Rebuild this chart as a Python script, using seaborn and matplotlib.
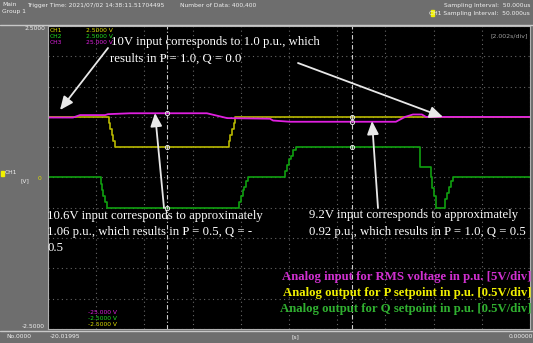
import numpy as np
import pandas as pd
import seaborn as sns
import matplotlib.pyplot as plt

# RMS voltage input (p.u.) - CH3, 5V/div
t_rms = [-20.02, -18.98, -18.69, -17.65, -17.53, -16.61, -13.42, -12.58, -10.80,
         -10.67, -9.97, -5.57, -5.19, -4.86, -4.49, -4.32, 0.0]
v_rms = [0.99, 0.99, 1.03, 1.03, 1.045, 1.06, 1.06, 0.98, 0.97,
         0.94, 0.92, 0.92, 1.0, 1.04, 1.04, 1.0, 1.0]

# P setpoint output (p.u.) - CH1
t_p = [-20.02, -17.53, -17.49, -17.44, -17.38, -17.32, -17.24,
       -12.54, -12.50, -12.44, -12.38, -12.31, -12.25, 0.0]
v_p = [1.0, 1.0, 0.9, 0.8, 0.7, 0.6, 0.5,
       0.5, 0.6, 0.7, 0.8, 0.9, 1.0, 1.0]

# Q setpoint output (p.u.) - CH2
t_q = [-20.02, -17.86, -17.82, -17.78, -17.72, -17.65, -17.57,
       -12.13, -12.07, -12.00, -11.94, -11.88, -11.80, -11.71,
       -10.26, -10.18, -10.09, -10.01, -9.93, -9.84, -9.72,
       -4.65, -4.55, -4.11, -4.07, -3.99, -3.90,
       -3.61, -3.53, -3.45, -3.36, -3.28, -3.20, 0.0]
v_q = [0.0, 0.0, -0.1, -0.2, -0.3, -0.4, -0.5,
       -0.5, -0.4, -0.3, -0.2, -0.15, -0.05, 0.0,
       0.0, 0.1, 0.2, 0.3, 0.35, 0.45, 0.5,
       0.5, 0.18, 0.0, -0.17, -0.3, -0.5,
       -0.5, -0.35, -0.25, -0.15, -0.05, 0.0, 0.0]

cursors = [-15.08, -7.39]

W, H = 533, 343
def fx(x):
    return x / W
def fy(y):
    return 1 - y / H

sns.set_style("dark")
plt.rcParams['font.family'] = ['DejaVu Sans']

fig = plt.figure(figsize=(W / 100, H / 100), dpi=100, facecolor='#6e6e6e')
ax = fig.add_axes([fx(48), fy(329), (530 - 48) / W, (329 - 26) / H])
ax.set_facecolor('black')

c_mag, c_yel, c_grn = '#e020e0', '#b8b800', '#10a010'
df_rms = pd.DataFrame({'t': t_rms, 'v': v_rms})
df_p = pd.DataFrame({'t': t_p, 'v': v_p})
df_q = pd.DataFrame({'t': t_q, 'v': v_q})
sns.lineplot(data=df_q, x='t', y='v', ax=ax, color=c_grn, lw=1.2, drawstyle='steps-post')
sns.lineplot(data=df_p, x='t', y='v', ax=ax, color=c_yel, lw=1.2, drawstyle='steps-post')
sns.lineplot(data=df_rms, x='t', y='v', ax=ax, color=c_mag, lw=1.3)

ax.set_xlim(-20.02, 0)
ax.set_ylim(-2.5, 2.5)
ax.set_xticks(np.linspace(-20.02, 0, 11))
ax.set_yticks(np.linspace(-2.5, 2.5, 11))
ax.tick_params(length=0, labelbottom=False, labelleft=False)
ax.set_xlabel('')
ax.set_ylabel('')
ax.grid(True, color='#666666', ls=(0, (1, 3)), lw=0.8)
for s in ax.spines.values():
    s.set_color('#b0b0b0')
    s.set_linewidth(0.8)

# cursors
for c in cursors:
    ax.axvline(c, color='#cfcfcf', ls=(0, (4, 2, 1, 2)), lw=0.8)
    for tt, vv in [(t_rms, v_rms), (t_p, v_p), (t_q, v_q)]:
        idx = np.searchsorted(tt, c, side='right') - 1
        val = vv[idx] if tt is not t_rms else np.interp(c, tt, vv)
        ax.plot(c, val, 'o', ms=3, mfc='none', mec='#e0e0e0', mew=0.7)

# header / frame
fig.add_artist(plt.Line2D([0, 1], [fy(24.5)] * 2, color='#c8c8c8', lw=1))
fig.add_artist(plt.Line2D([0, 1], [fy(330.5)] * 2, color='#c8c8c8', lw=1))
small = dict(color='#f0f0f0', fontsize=4.3, va='center')
fig.text(fx(2), fy(5), 'Main', **small)
fig.text(fx(2), fy(11), 'Group 1', **small)
fig.text(fx(27), fy(5), 'Trigger Time: 2021/07/02 14:38:11.51704495', **small)
fig.text(fx(180), fy(5), 'Number of Data: 400,400', **small)
fig.text(fx(530), fy(5), 'Sampling Interval:  50.000us', ha='right', **small)
fig.text(fx(530), fy(13), 'CH1 Sampling Interval:  50.000us', ha='right', **small)
fig.patches.append(plt.Rectangle((fx(431), fy(16)), 3 / W, 6 / H, color='#f0f000',
                                 transform=fig.transFigure, figure=fig))
fig.text(fx(45), fy(29), '2.5000', ha='right', **small)
fig.text(fx(45), fy(326), '-2.5000', ha='right', **small)
fig.patches.append(plt.Rectangle((fx(1), fy(176)), 3 / W, 5 / H, color='#f0f000',
                                 transform=fig.transFigure, figure=fig))
fig.text(fx(5), fy(173), 'CH1', **small)
fig.text(fx(20), fy(181), '[V]', **small)
fig.text(fx(38), fy(178), '0', color='#e0e000', fontsize=4.3, va='center')
fig.text(fx(6), fy(337), 'No.0000', **small)
fig.text(fx(50), fy(337), '-20.01995', **small)
fig.text(fx(292), fy(337), '[s]', **small)
fig.text(fx(533), fy(337), '0.00000', ha='right', **small)
fig.text(fx(528), fy(36), '[2.002s/div]', ha='right', color='#a0a0a0', fontsize=4.5, va='center')

for i, (nm, rng, lo, col) in enumerate([('CH1', '2.5000 V', '-2.5000 V', '#e0e000'),
                                         ('CH2', '2.5000 V', '-2.5000 V', '#20e020'),
                                         ('CH3', '25.000 V', '-25.000 V', '#e020e0')]):
    fig.text(fx(50), fy(30 + 6 * i), nm, color=col, fontsize=4.3, va='center')
    fig.text(fx(86), fy(30 + 6 * i), rng, color=col, fontsize=4.3, va='center')
    fig.text(fx(88), fy(325 - 6 * i), lo, color=col, fontsize=4.3, va='center')

# annotations
serif = dict(color='white', fontsize=9.2, family='Liberation Serif', va='center')
fig.text(fx(111), fy(42), '10V input corresponds to 1.0 p.u., which', **serif)
fig.text(fx(110), fy(59), 'results in P = 1.0, Q = 0.0', **serif)
fig.text(fx(47), fy(216), '10.6V input corresponds to approximately', **serif)
fig.text(fx(47), fy(232), '1.06 p.u., which results in P = 0.5, Q = -', **serif)
fig.text(fx(47), fy(248), '0.5', **serif)
fig.text(fx(309), fy(215), '9.2V input corresponds to approximately', **serif)
fig.text(fx(309), fy(232), '0.92 p.u., which results in P = 1.0, Q = 0.5', **serif)

leg = dict(fontsize=9.2, family='Liberation Serif', weight='bold', ha='right', va='center')
fig.text(fx(532), fy(277), 'Analog input for RMS voltage in p.u. [5V/div]', color='#d030d0', **leg)
fig.text(fx(532), fy(293), 'Analog output for P setpoint in p.u. [0.5V/div]', color='#f0f000', **leg)
fig.text(fx(532), fy(309), 'Analog output for Q setpoint in p.u. [0.5V/div]', color='#30b030', **leg)

arrows = [((108, 48), (60, 110)), ((298, 63), (443, 117)),
          ((164, 208), (155, 113)), ((378, 208), (372, 121))]
for (x0, y0), (x1, y1) in arrows:
    ax.annotate('', xy=(fx(x1), fy(y1)), xytext=(fx(x0), fy(y0)),
                xycoords='figure fraction', textcoords='figure fraction',
                arrowprops=dict(arrowstyle='-|>,head_length=0.8,head_width=0.35',
                                color='#e8e8e8', lw=1.3, shrinkA=0, shrinkB=0))

fig.savefig('out.png', dpi=100, facecolor=fig.get_facecolor())
